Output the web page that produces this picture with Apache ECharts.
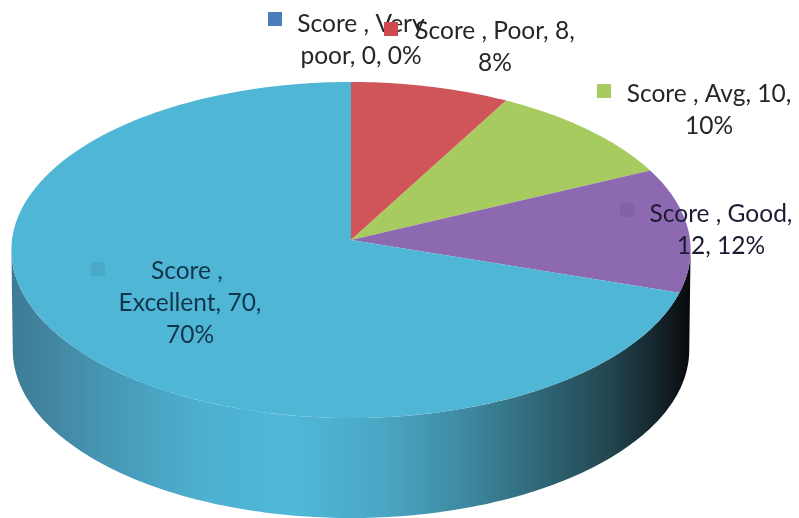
<!DOCTYPE html>
<html>
<head>
<meta charset="utf-8">
<style>html,body{margin:0;padding:0;background:#fff}#c{width:799px;height:518px}</style>
<script src="https://cdn.jsdelivr.net/npm/echarts@6/dist/echarts.min.js"></script>
</head>
<body>
<div id="c"></div>
<script>
const seriesName = 'Score';
const categories = ['Very poor', 'Poor', 'Avg', 'Good', 'Excellent'];
const scores = [0, 8, 10, 12, 70];
const labelBreaks = ['Score , Very\npoor, 0, 0%', 'Score , Poor, 8,\n8%', 'Score , Avg, 10,\n10%', 'Score , Good,\n12, 12%', 'Score , \nExcellent, 70,\n70%'];

const colors = ['#4a7ebb', '#cf5558', '#a8cb5f', '#8c69b1', '#4fb6d6'];
const keyColors = ['#4a7ebb', '#cf4a4e', '#a8cb5f', '#8262a8', '#4aa9c6'];
const keyBoxes = [[268, 12], [384, 22], [597, 84], [620, 203], [91, 262]];
const labelCenters = [[361, 40], [495, 47], [709, 110], [721, 230], [190, 303]];
const textColors = ['#262626', '#262626', '#262626', '#1f1a33', '#12354c'];

const geo = { cx: 351, cy: 240, A: 339, B: 167.4, k: 0.0595, depth: 100, shrink: 0.996 };
const total = scores.reduce((a, b) => a + b, 0);

// Perspective projection of the unit disc on to the tilted pie face.
function project(r, deg) {
  const t = deg * Math.PI / 180;
  const X = r * Math.sin(t), Y = r * Math.cos(t), d = 1 + geo.k * Y;
  return [geo.cx + geo.A * X / d, geo.cy - geo.B * Y / d];
}
function arc(from, to) {
  const pts = [], n = Math.max(2, Math.ceil(Math.abs(to - from)));
  for (let i = 0; i <= n; i++) pts.push(project(1, from + (to - from) * i / n));
  return pts;
}
function wall() {
  const top = arc(93.4, 266.6);
  const bottom = top.map(p => [geo.cx + (p[0] - geo.cx) * geo.shrink, p[1] + geo.depth]).reverse();
  return {
    type: 'polygon',
    shape: { points: top.concat(bottom) },
    style: {
      fill: new echarts.graphic.LinearGradient(12, 0, 691, 0, [
        { offset: 0, color: '#3e7c96' },
        { offset: 0.04, color: '#41829c' },
        { offset: 0.13, color: '#4596b3' },
        { offset: 0.28, color: '#4db0cf' },
        { offset: 0.41, color: '#50b8d9' },
        { offset: 0.55, color: '#4aa6c3' },
        { offset: 0.66, color: '#3f8ba3' },
        { offset: 0.78, color: '#2f6676' },
        { offset: 0.88, color: '#234650' },
        { offset: 0.95, color: '#14252c' },
        { offset: 1, color: '#08090c' }
      ], true)
    }
  };
}

function renderItem(params, api) {
  const i = params.dataIndex;
  const v = api.value(1);
  const before = scores.slice(0, i).reduce((a, b) => a + b, 0);
  const a0 = before / total * 360, a1 = (before + v) / total * 360;
  const children = [];
  if (i === 0) children.push(wall());
  if (v > 0) {
    children.push({
      type: 'polygon',
      shape: { points: [[geo.cx, geo.cy]].concat(arc(a0, a1)) },
      style: { fill: colors[i] }
    });
  }
  children.push({
    type: 'rect',
    shape: { x: keyBoxes[i][0], y: keyBoxes[i][1], width: 14, height: 14 },
    style: { fill: keyColors[i] }
  });
  children.push({
    type: 'text',
    style: {
      x: labelCenters[i][0], y: labelCenters[i][1],
      text: labelBreaks[i],
      align: 'center', verticalAlign: 'middle',
      font: '24.5px Lato', lineHeight: 32,
      fill: textColors[i]
    }
  });
  return { type: 'group', children };
}

const chart = echarts.init(document.getElementById('c'), null, { renderer: 'canvas' });
chart.setOption({
  animation: false,
  backgroundColor: '#fff',
  series: [{
    type: 'custom',
    name: seriesName,
    coordinateSystem: 'none',
    silent: true,
    clip: false,
    renderItem,
    data: categories.map((c, i) => [c, scores[i]])
  }]
});
</script>
</body>
</html>
